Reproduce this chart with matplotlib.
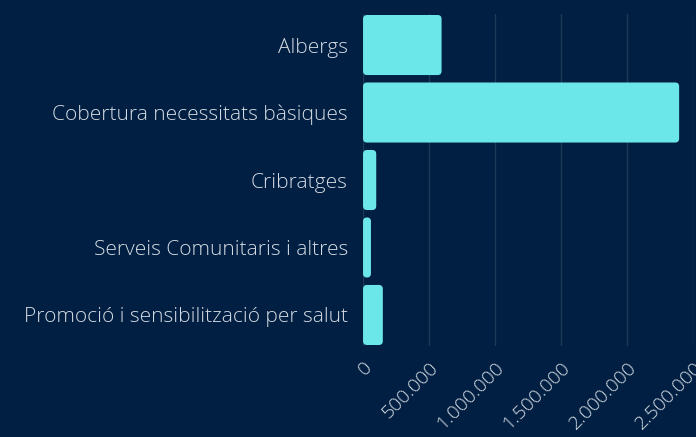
import matplotlib
matplotlib.use("Agg")
import matplotlib.pyplot as plt
from matplotlib.patches import FancyBboxPatch
from matplotlib.ticker import FuncFormatter

categories = [
    "Albergs",
    "Cobertura necessitats bàsiques",
    "Cribratges",
    "Serveis Comunitaris i altres",
    "Promoció i sensibilització per salut",
]
amounts = [595000, 2395000, 100000, 60000, 150000]
x_ticks = [0, 500000, 1000000, 1500000, 2000000, 2500000]

BG = "#001f42"
BAR = "#6be6e9"
TEXT = "#d5dbe3"
GRID = "#1c3957"

plt.rcParams["font.family"] = ["Open Sans", "DejaVu Sans"]

fig = plt.figure(figsize=(6.96, 4.37), dpi=100)
fig.patch.set_facecolor(BG)
ax = fig.add_axes([0.5216, 0.2082, 0.4741, 0.7598])
ax.set_facecolor(BG)

ypos = list(range(len(categories)))
bars = ax.barh(ypos, amounts, height=0.89, color=BAR)

ax.set_xlim(0, 2500000)
ax.set_ylim(len(categories) - 0.54, -0.46)

# swap the plain rectangles for rounded ones (about 4 px corners)
rx = 4 / 132 * 1000000
ry = 4 / 67.5
for b in bars:
    x, y = b.get_x(), b.get_y()
    w, h = b.get_width(), b.get_height()
    r = min(rx, w / 2)
    patch = FancyBboxPatch((x, y), w, h,
                           boxstyle=f"round,pad=0,rounding_size={r}",
                           mutation_aspect=ry / rx,
                           facecolor=BAR, edgecolor="none", zorder=3)
    ax.add_patch(patch)
    b.set_visible(False)

ax.set_xticks(x_ticks)
ax.xaxis.set_major_formatter(FuncFormatter(lambda v, p: f"{int(v):,}".replace(",", ".")))
ax.set_yticks(ypos)
ax.set_yticklabels(categories)

ax.grid(True, axis="x", color=GRID, linewidth=1)
ax.set_axisbelow(True)
for s in ax.spines.values():
    s.set_visible(False)

ax.tick_params(axis="y", length=0, pad=11, labelsize=15, labelcolor=TEXT)
ax.tick_params(axis="x", length=0, pad=9, labelsize=14, labelcolor=TEXT)
for lbl in ax.get_xticklabels():
    lbl.set_rotation(45)
    lbl.set_ha("right")
    lbl.set_va("top")
    lbl.set_rotation_mode("anchor")
    lbl.set_fontweight("light")
for lbl in ax.get_yticklabels():
    lbl.set_fontweight("light")

fig.savefig("out.png", dpi=100, facecolor=BG)
